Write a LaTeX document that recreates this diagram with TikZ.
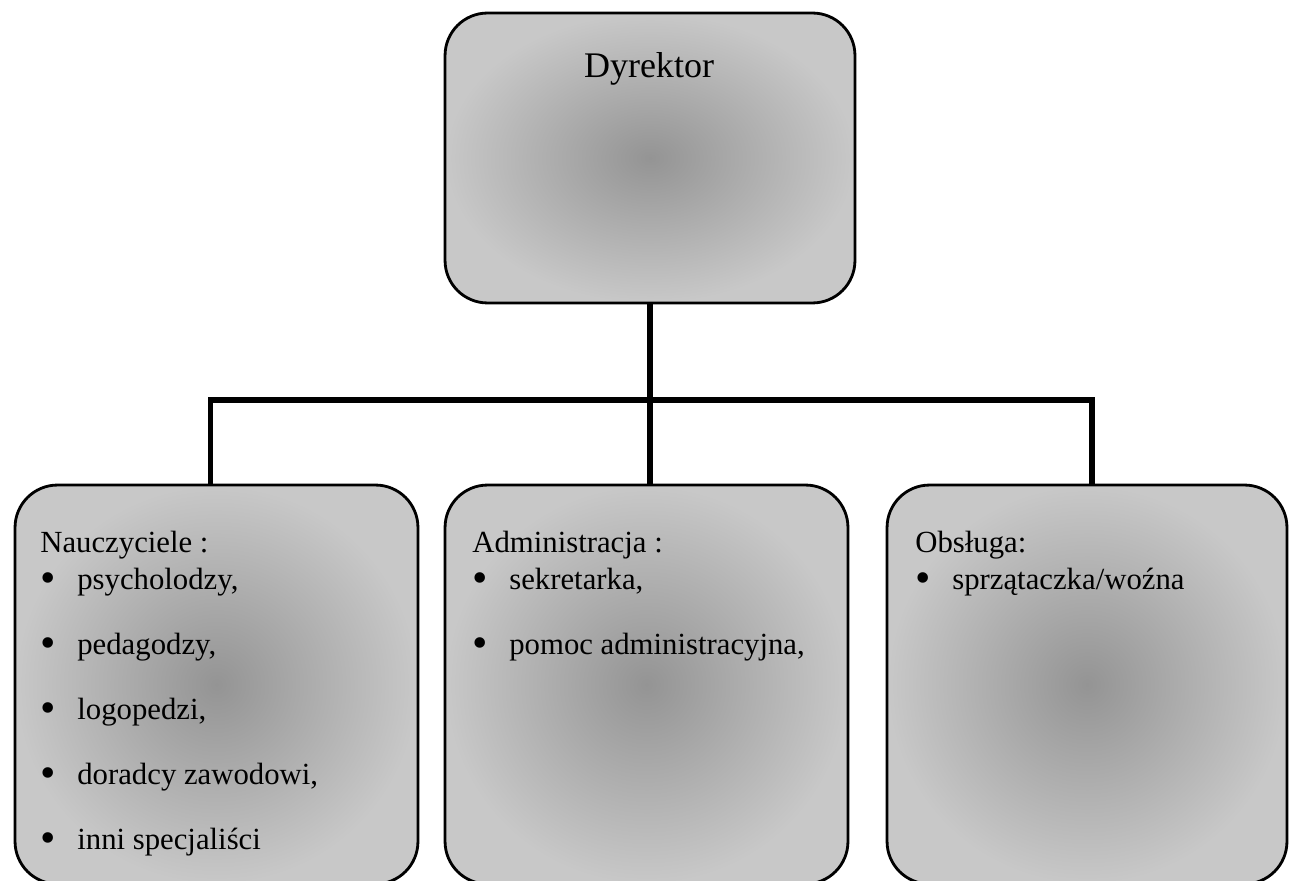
\documentclass[tikz,border=0pt]{standalone}
\usepackage{fontspec}
\setmainfont{Liberation Serif}
\usetikzlibrary{positioning}
\definecolor{orgedge}{RGB}{200,200,200}
\definecolor{orgcore}{RGB}{148,148,148}
\newcommand{\itm}[1]{\makebox[0.74cm][l]{\raisebox{-1.6pt}{\fontsize{25}{21}\selectfont\textbullet}}#1}

\begin{document}
\begin{tikzpicture}[x=0.02cm, y=-0.02cm,
  unit/.style={draw=black, line width=1.6pt, rounded corners=0.85cm,
               inner color=orgcore, outer color=orgedge,
               inner sep=0pt, outer sep=0pt},
  link/.style={line width=2.9pt, black, line join=miter},
  lst/.style={anchor=north west, align=left, inner sep=0pt,
              font=\fontsize{17.5}{21}\selectfont}]
  \useasboundingbox (0,0) rectangle (1290,881);

  % Top box
  \node[unit, minimum width=8.2cm, minimum height=5.8cm] (dyr) at (650,158) {};
  \node[anchor=base, inner sep=0pt, font=\fontsize{20.5}{24}\selectfont]
    (dyrtxt) at (649,78) {Dyrektor};

  % Bottom boxes
  \node[unit, minimum width=8.06cm, minimum height=7.98cm] (naucz) at (216.5,684.5) {};
  \node[unit, minimum width=8.06cm, minimum height=7.98cm] (admin) at (646.5,684.5) {};
  \node[unit, minimum width=8.0cm, minimum height=7.98cm] (obsl) at (1087,684.5) {};

  % Box texts
  \node[lst] (nauczlst) at (40,531)
    {Nauczyciele :\\
     \itm{psycholodzy,}\\[16pt]
     \itm{pedagodzy,}\\[16pt]
     \itm{logopedzi,}\\[16pt]
     \itm{doradcy zawodowi,}\\[16pt]
     \itm{inni specjaliści}};
  \node[lst] (adminlst) at (472,531)
    {Administracja :\\
     \itm{sekretarka,}\\[16pt]
     \itm{pomoc administracyjna,}};
  \node[lst] (obsllst) at (915,531)
    {Obsługa:\\
     \itm{sprzątaczka/woźna}};

  % Connectors
  \coordinate (busl) at ([xshift=-0.12cm]naucz.north |- 0,400);
  \coordinate (busr) at ([xshift=0.1cm]obsl.north |- 0,400);
  \draw[link] ([xshift=-0.12cm]naucz.north) -- (busl) -- (busr)
    -- ([xshift=0.1cm]obsl.north);
  \draw[link] (dyr.south) -- (dyr.south |- admin.north);
\end{tikzpicture}
\end{document}
